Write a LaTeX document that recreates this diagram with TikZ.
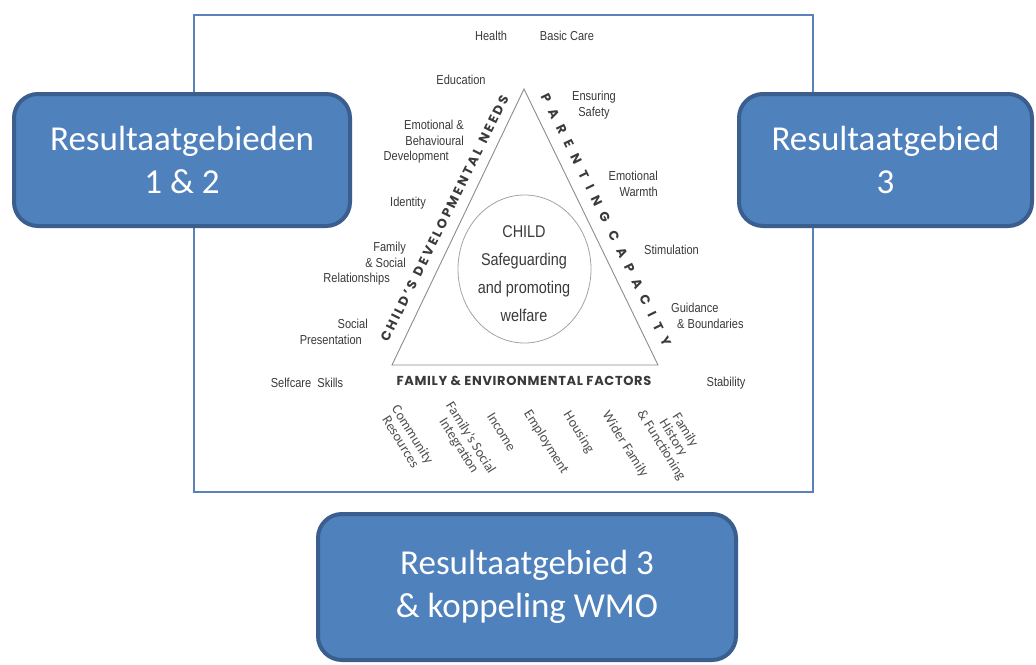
\documentclass[tikz,border=0pt]{standalone}
\usepackage{fontspec}
\setmainfont{Carlito}
\newfontfamily\lblfont{Liberation Sans}[FakeStretch=0.85]
\newfontfamily\capfont{Poppins}
\usetikzlibrary{shapes.geometric}
\definecolor{boxfill}{HTML}{4F81BD}
\definecolor{boxedge}{HTML}{3A5F8F}
\definecolor{framec}{HTML}{5B82B8}
\definecolor{lblc}{HTML}{3A3A3A}
\definecolor{botc}{HTML}{505050}
\definecolor{tric}{HTML}{8C8C8C}
\tikzset{
  bluebox/.style={draw=boxedge, fill=boxfill, line width=4pt, rounded corners=24pt,
    text=white, font=\fontsize{35}{43}\selectfont, align=center, inner sep=0pt},
  lbl/.style={text=lblc, font=\lblfont\fontsize{13}{15.5}\selectfont, inner sep=0pt},
  botlbl/.style={text=botc, font=\fontsize{14}{14}\selectfont, inner sep=0pt, rotate=-58, align=center},
  sidelbl/.style={text=lblc, inner sep=0pt},
  centertxt/.style={text=lblc, font=\lblfont\fontsize{17}{28}\selectfont, align=center, inner sep=0pt},
}
\begin{document}
\begin{tikzpicture}[x=1pt,y=-1pt]
\useasboundingbox (0,0) rectangle (1036,664);
\fill[white] (0,0) rectangle (1036,664);
% frame of the picture
\draw[framec, line width=2pt] (194,15) rectangle (813,492);
% triangle
\coordinate (apex) at (524,89);
\coordinate (bl) at (392,365);
\coordinate (br) at (658,365);
\draw[tric, line width=0.9pt] (apex) -- (bl) -- (br) -- cycle;
\node[draw=tric!80, line width=0.8pt, ellipse, minimum width=133pt, minimum height=148pt, inner sep=0pt] (ell) at (524.5,269) {};
\node[centertxt] (child) at (524,274) {CHILD\\Safeguarding\\and promoting\\welfare};
% side labels
\node[sidelbl, rotate=63.7, font=\capfont\bfseries\fontsize{13}{13}\selectfont\addfontfeature{LetterSpace=20}] (cdn) at (444.5,218.5) {CHILD’S\hspace{7pt}DEVELOPMENTAL\hspace{7pt}NEEDS};
\node[sidelbl, rotate=-63.9, font=\capfont\bfseries\fontsize{13}{13}\selectfont\addfontfeature{LetterSpace=65}] (pc) at (606,220) {PARENTING CAPACITY};
\node[sidelbl, font=\capfont\bfseries\fontsize{13}{13}\selectfont\addfontfeature{LetterSpace=5}] (fef) at (524,381) {FAMILY \& ENVIRONMENTAL FACTORS};
% left labels
\node[lbl] (health) at (491,36) {Health};
\node[lbl] (basic) at (567,36) {Basic Care};
\node[lbl] (edu) at (461,80) {Education};
\node[lbl, align=right, anchor=east] (emo) at (464,142) {Emotional \&\\Behavioural\hspace*{7pt}\\Development\hspace*{15pt}};
\node[lbl] (ident) at (408,203) {Identity};
\node[lbl, align=right, anchor=east] (fam) at (406,264) {Family\\\& Social\hspace*{8pt}\\Relationships\hspace*{16pt}};
\node[lbl, align=right, anchor=east] (soc) at (368,332) {Social\\Presentation\hspace*{6pt}};
\node[lbl] (self) at (307,383) {Selfcare\ \ Skills};
% right labels
\node[lbl, align=center] (safe) at (594,105) {Ensuring\\Safety};
\node[lbl, align=right, anchor=east] (warm) at (658,184) {Emotional\\Warmth};
\node[lbl] (stim) at (671.5,250) {Stimulation};
\node[lbl, align=left, anchor=west] (guid) at (671,316) {Guidance\\\hspace*{6pt}\& Boundaries};
\node[lbl] (stab) at (726,383) {Stability};
% bottom labels
\node[botlbl] (comm) at (407,438) {Community\\Resources};
\node[botlbl] (integ) at (464.5,442) {Family’s Social\\Integration};
\node[botlbl] (inc) at (501.5,432) {Income};
\node[botlbl] (emp) at (546,442) {Employment};
\node[botlbl] (hous) at (578.5,432.5) {Housing};
\node[botlbl] (wider) at (625,444.5) {Wider Family};
\node[botlbl] (hist) at (673,438) {Family\\History\\\& Functioning};
% blue boxes
\node[bluebox, minimum width=336pt, minimum height=132pt] (rg12) at (182,160) {Resultaatgebieden\\1 \& 2};
\node[bluebox, minimum width=293pt, minimum height=132pt] (rg3) at (885.5,160) {Resultaatgebied\\3};
\node[bluebox, minimum width=418pt, minimum height=146pt] (rg3w) at (527,587) {Resultaatgebied 3\\\& koppeling WMO};
\end{tikzpicture}
\end{document}
